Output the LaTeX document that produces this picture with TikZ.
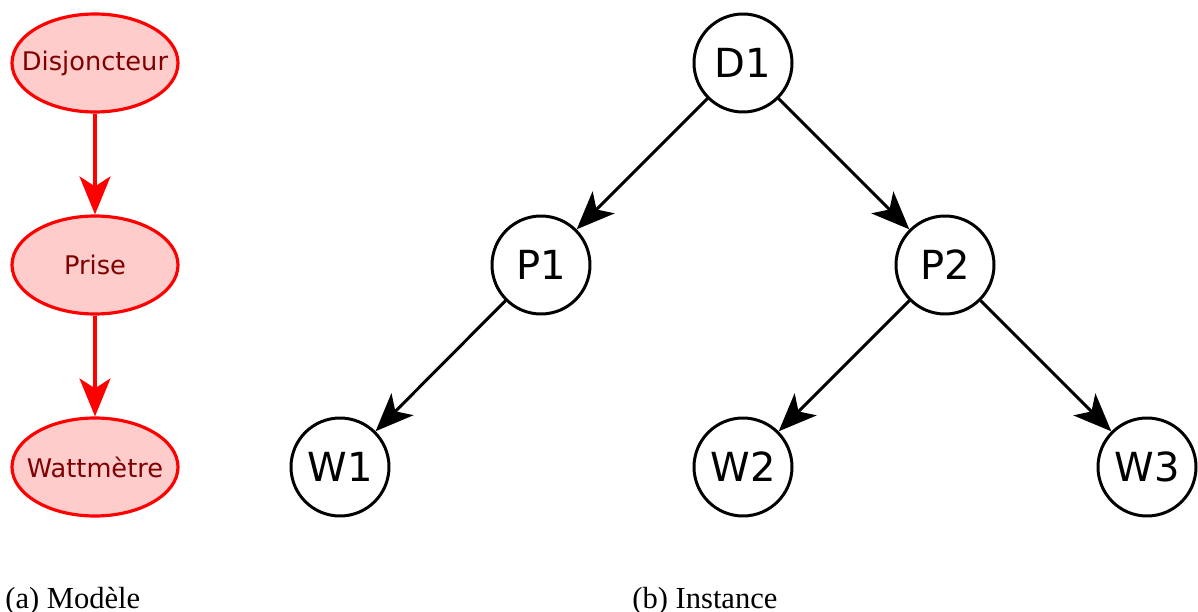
\documentclass[tikz,border=0pt]{standalone}
\usepackage{fontspec}
\setmainfont{DejaVu Sans}
\newfontfamily\capfont{Liberation Serif}
\usetikzlibrary{arrows.meta,shapes.geometric}
\definecolor{modfill}{HTML}{FFCCCC}
\definecolor{modtext}{HTML}{800000}
\begin{document}
\begin{tikzpicture}[x=0.02cm,y=-0.02cm,
  modnode/.style={ellipse,draw=red,fill=modfill,line width=1.8pt,minimum width=166*0.02cm,minimum height=98*0.02cm,inner sep=0pt,
    label={[text=modtext,font=\fontsize{14.6}{18}\selectfont]center:#1}},
  modarrow/.style={draw=red,line width=1.8pt,-{Stealth[length=38*0.02cm,width=31*0.02cm,inset=10*0.02cm]}},
  instnode/.style={circle,draw=black,line width=1.7pt,minimum size=98*0.02cm,inner sep=0pt,font=\fontsize{22.8}{27}\selectfont},
  instarrow/.style={draw=black,line width=1.7pt,-{Stealth[length=38*0.02cm,width=31*0.02cm,inset=10*0.02cm]}},
  caption/.style={font=\capfont\fontsize{17.4}{20}\selectfont,inner sep=0pt,anchor=base west}]
\useasboundingbox (0,0) rectangle (1198,612);
\node[modnode=Disjoncteur] (dis) at (95,63) {};
\node[modnode=Prise] (pri) at (95,265) {};
\node[modnode=Wattmètre] (wat) at (95,467) {};
\draw[modarrow] (dis) -- (pri);
\draw[modarrow] (pri) -- (wat);
\node[instnode] (d1) at (743,63) {D1};
\node[instnode] (p1) at (541,265) {P1};
\node[instnode] (p2) at (945,265) {P2};
\node[instnode] (w1) at (340,467) {W1};
\node[instnode] (w2) at (743,467) {W2};
\node[instnode] (w3) at (1147,467) {W3};
\draw[instarrow] (d1) -- (p1);
\draw[instarrow] (d1) -- (p2);
\draw[instarrow] (p1) -- (w1);
\draw[instarrow] (p2) -- (w2);
\draw[instarrow] (p2) -- (w3);
\node[caption] (capa) at (5,608) {(a) Modèle};
\node[caption] (capb) at (632,608) {(b) Instance};
\end{tikzpicture}
\end{document}
